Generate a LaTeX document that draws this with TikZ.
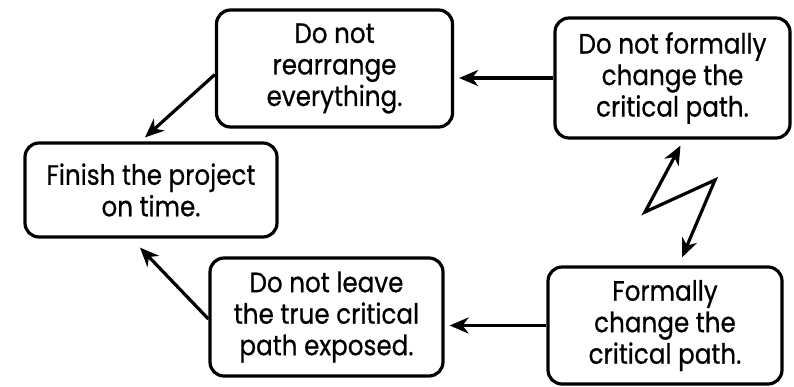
\documentclass[tikz,border=0pt]{standalone}
\usepackage{fontspec}
\setmainfont[FakeStretch=0.88,FakeBold=0.6]{Poppins}
\usetikzlibrary{arrows.meta}
\begin{document}
\begin{tikzpicture}[x=1pt,y=-1pt,
  card/.style={draw, line width=3.2pt, rounded corners=14pt, align=center,
    inner sep=0pt, font=\fontsize{28}{31.5}\selectfont},
  flow/.style={line width=3.2pt, -{Stealth[length=19pt,width=16pt,inset=6pt]}},
  twoway/.style={line width=3.2pt, {Stealth[length=19pt,width=16pt,inset=6pt]}-{Stealth[length=19pt,width=16pt,inset=6pt]}, line join=miter}]
  \useasboundingbox (0,0) rectangle (794,386);

  % the five statement boxes
  \node[card, minimum width=236pt, minimum height=117pt] (A) at (334.5,68.5)
    {Do not\\rearrange\\everything.};
  \node[card, minimum width=235pt, minimum height=120pt] (B) at (672.5,78)
    {Do not formally\\change the\\critical path.};
  \node[card, minimum width=252pt, minimum height=94pt] (C) at (151,190)
    {Finish the project\\on time.};
  \node[card, minimum width=233pt, minimum height=118pt] (D) at (326.5,317)
    {Do not leave\\the true critical\\path exposed.};
  \node[card, minimum width=234pt, minimum height=117pt] (E) at (665,325.5)
    {Formally\\change the\\critical path.};

  % connectors
  \draw[flow] (B.west) -- ([xshift=5pt]B.west -| A.east);
  \draw[flow] ([yshift=-6pt]A.west) -- ([xshift=-6pt,yshift=4pt]C.north);
  \draw[flow] ([yshift=-2pt]D.west) -- ([xshift=-11pt,yshift=-9pt]C.south);
  \draw[flow] (E.west) -- ([xshift=5pt]E.west -| D.east);

  % zigzag conflict arrow between the two right boxes
  \coordinate (k1) at (645,212);
  \coordinate (k2) at (715,180);
  \draw[twoway] ([xshift=8pt,yshift=-6pt]B.south) -- (k1) -- (k2)
    -- ([xshift=17pt,yshift=8pt]E.north);
\end{tikzpicture}
\end{document}
